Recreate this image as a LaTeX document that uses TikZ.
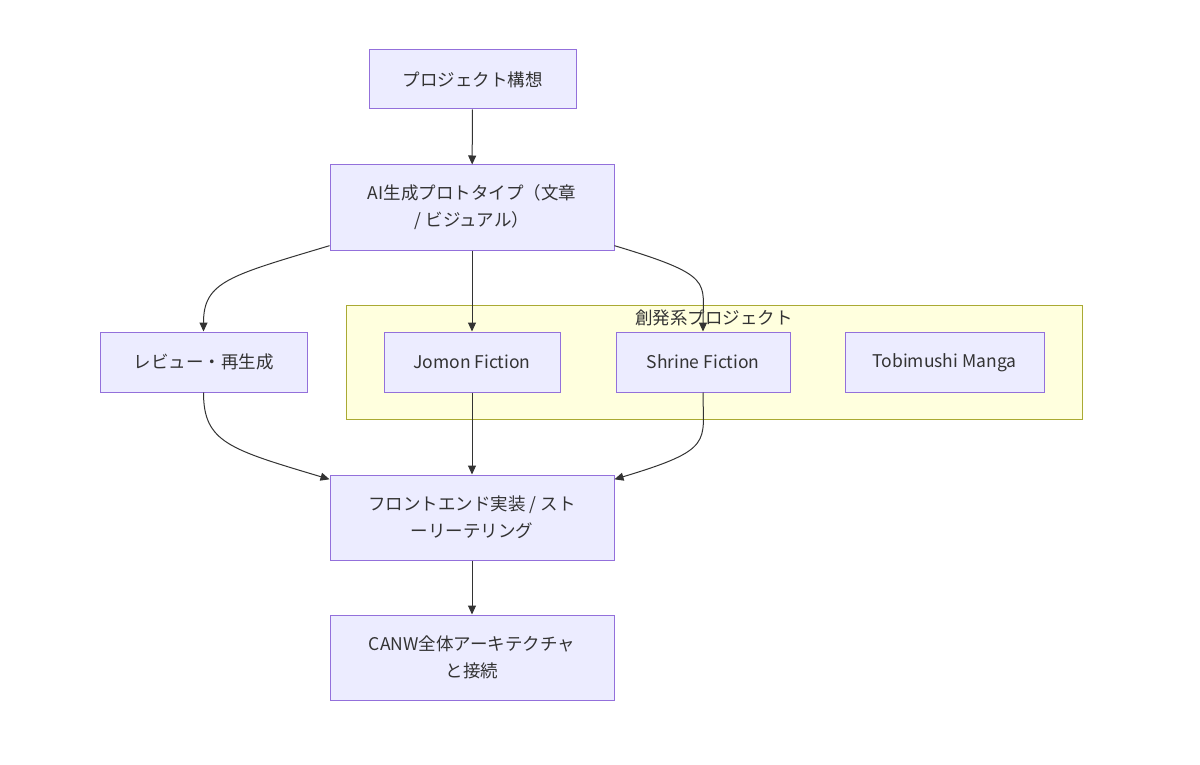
\documentclass[tikz,border=0pt]{standalone}
\usepackage{fontspec}
\setmainfont{Noto Sans CJK JP}
\usetikzlibrary{arrows.meta}
\definecolor{nodefill}{HTML}{ECECFF}
\definecolor{nodeborder}{HTML}{9370DB}
\definecolor{edgecol}{HTML}{333333}
\definecolor{clusterfill}{HTML}{FFFFDE}
\definecolor{clusterborder}{HTML}{AAAA33}
\tikzset{
  box/.style={draw=nodeborder, fill=nodefill, line width=1pt, inner sep=0pt, align=center,
    text=edgecol, font=\fontsize{17.5}{27}\selectfont},
  edge/.style={draw=edgecol, line width=1pt, -{Triangle[length=9pt,width=8pt]}},
}
\begin{document}
\begin{tikzpicture}[x=1pt,y=-1pt]
\useasboundingbox[fill=white] (0,0) rectangle (1200,765);
% cluster
\node[draw=clusterborder, fill=clusterfill, line width=1pt, minimum width=736pt, minimum height=114pt, inner sep=0pt] (cl) at (714,362) {};
\node[text=edgecol, font=\fontsize{17.5}{20}\selectfont] (cllab) at (714,318) {創発系プロジェクト};
% nodes
\node[box, minimum width=207pt, minimum height=59pt] (A) at (472.5,79.5) {プロジェクト構想};
\node[box, minimum width=284pt, minimum height=85pt] (B) at (472,207.5) {AI生成プロトタイプ（文章\\/ ビジュアル）};
\node[box, minimum width=207pt, minimum height=60pt] (R) at (203.5,362) {レビュー・再生成};
\node[box, minimum width=176pt, minimum height=60pt] (J) at (472,362) {Jomon Fiction};
\node[box, minimum width=174pt, minimum height=60pt] (S) at (703,362) {Shrine Fiction};
\node[box, minimum width=199pt, minimum height=60pt] (T) at (944.5,362) {\strut Tobimushi Manga};
\node[box, minimum width=284pt, minimum height=85pt] (F) at (472,517.5) {フロントエンド実装 / スト\\ーリーテリング};
\node[box, minimum width=284pt, minimum height=85pt] (C) at (472,657.5) {CANW全体アーキテクチャ\\と接続};
% edges
\draw[edge] (A) -- (B);
\draw[edge] (B.195) .. controls +(-100,30) and +(0,-50) .. (R.north);
\draw[edge] (B) -- (J);
\draw[edge] (B.-15) .. controls +(100,30) and +(0,-50) .. (S.north);
\draw[edge] (R.south) .. controls +(0,50) and +(-100,-30) .. (F.165);
\draw[edge] (J) -- (F);
\draw[edge] (S.south) .. controls +(0,50) and +(100,-30) .. (F.15);
\draw[edge] (F) -- (C);
\end{tikzpicture}
\end{document}
